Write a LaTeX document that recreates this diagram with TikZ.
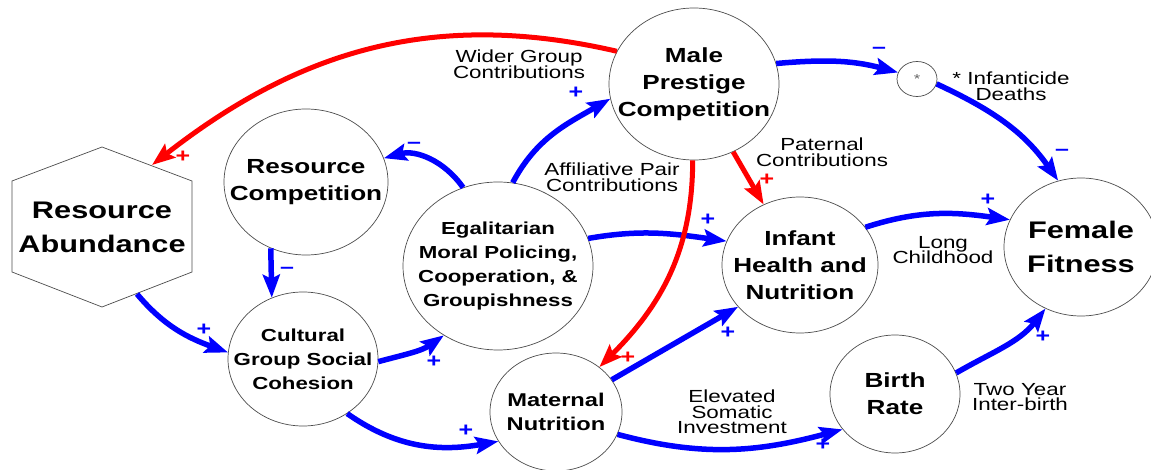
\documentclass[tikz,border=0pt]{standalone}
\usepackage{fontspec}
\setmainfont[FakeStretch=1.28]{Liberation Sans}
\usetikzlibrary{shapes,arrows.meta}
\tikzset{
  var/.style = {ellipse, draw=black!70, line width=0.7pt, fill=white,
    align=center, inner xsep=-40pt, inner ysep=0pt},% variable bubble
  var_l/.style = {var, font=\fontsize{24}{34}\selectfont\bfseries},% big
  var_m/.style = {var, font=\fontsize{20.4}{27}\selectfont\bfseries},% medium
  var_s/.style = {var, font=\fontsize{17.4}{24}\selectfont\bfseries},% small
  var_x/.style = {var, font=\fontsize{13}{13}\selectfont, text=black!60},% star
  abund/.style = {align=center, inner sep=0pt,
    font=\fontsize{24}{34}\selectfont\bfseries},
  hexa/.style = {draw=black!70, line width=0.7pt},
  lnk_b/.style = {->, blue, line width=5.5pt},% blue link
  lnk_r/.style = {->, red, line width=5pt},% red link
  lbl/.style = {align=center, inner sep=0pt,
    font={\fontsize{17.5}{15.5}\selectfont\lineskiplimit=-20pt}},
  sgn/.style = {inner sep=0pt, font=\fontsize{19.5}{19.5}\selectfont\bfseries},
  sgn_b/.style = {sgn, blue},
  sgn_r/.style = {sgn, red}
}
\begin{document}
\begin{tikzpicture}[x=1pt, y=1pt, >={Stealth[length=23pt,width=17pt,inset=4pt]}]
    \useasboundingbox (0,0) rectangle (1151,-470);
    % variables
    \node [abund](resab) at (102,-227) {Resource\\Abundance};
    \draw [hexa, shift={(resab)}] (0,80) -- (90,46) -- (90,-45) -- (0,-80)
        -- (-90,-45) -- (-90,46) -- cycle;
    \coordinate (resab_in) at (152,-165);
    \coordinate (resab_out) at (137,-294);
    \node [var_m, minimum width=164pt, minimum height=146pt](rescomp) at (306,-182) {Resource\\Competition};
    \node [var_s, minimum width=190pt, minimum height=168pt](egal) at (498,-266) {Egalitarian\\Moral Policing,\\Cooperation, \&\\Groupishness};
    \node [var_m, minimum width=170pt, minimum height=152pt](male) at (694,-84) {Male\\Prestige\\Competition};
    \node [var_x, minimum width=40pt, minimum height=35pt](star) at (917,-79) {*};
    \node [var_m, minimum width=156pt, minimum height=136pt](infant) at (800,-265) {Infant\\Health and\\Nutrition};
    \node [var_l, minimum width=154pt, minimum height=138pt](female) at (1081,-247) {Female\\Fitness};
    \node [var_s, minimum width=150pt, minimum height=134pt](cult) at (303,-359) {Cultural\\Group Social\\Cohesion};
    \node [var_s, font=\fontsize{18.5}{24}\selectfont\bfseries,
        minimum width=132pt, minimum height=118pt](matern) at (556,-412) {Maternal\\Nutrition};
    \node [var_m, minimum width=130pt, minimum height=118pt](birth) at (895,-394) {Birth\\Rate};
    % link labels
    \node [lbl](wider) at (519,-64) {Wider Group\\Contributions};
    \node [lbl](affil) at (612,-177) {Affiliative Pair\\Contributions};
    \node [lbl](patern) at (822,-152) {Paternal\\Contributions};
    \node [lbl](infdeath) at (1011,-86) {* Infanticide\\Deaths};
    \node [lbl](longch) at (943,-250) {Long\\Childhood};
    \node [lbl](elev) at (732,-412) {Elevated\\Somatic\\Investment};
    \node [lbl](twoyr) at (1020,-397) {Two Year\\Inter-birth};
    % blue links
    \draw [lnk_b] (egal.80) to[out=62,in=210] (male.190);
    \draw [lnk_b] (egal.114) to[out=125,in=15] (rescomp.17);
    \draw [lnk_b] (rescomp.242) -- (cult.117);
    \draw [lnk_b] (resab_out) to[out=-50,in=160] (cult.175);
    \draw [lnk_b] (cult.-2) to[out=15,in=215] (egal.232);
    \draw [lnk_b] (cult.-51) to[out=-35,in=190] (matern.207);
    \draw [lnk_b] (egal.17) to[out=10,in=172] (infant.162);
    \draw [lnk_b] (matern.30) -- (infant.214);
    \draw [lnk_b] (matern.-20) to[out=-15,in=195] (birth.214);
    \draw [lnk_b] (infant.30) to[out=18,in=172] (female.159);
    \draw [lnk_b] (birth.19) to[out=30,in=232] (female.240);
    \draw [lnk_b] (male.14) to[out=5,in=165] (star.161);
    \draw [lnk_b] (star.-14) to[out=-25,in=125] (female.109);
    % red links
    \draw [lnk_r] (male.157) to[out=167,in=38] (resab_in);
    \draw [lnk_r] (male.269) to[out=-90,in=45] (matern.46);
    \draw [lnk_r] (male.300) -- (infant.121);
    % signs
    \node [sgn_r](s_ab) at (183,-157) {+};
    \node [sgn_b](s_ma) at (576,-93) {+};
    \node [sgn_b](s_rc) at (414,-145) {–};
    \node [sgn_b](s_cu) at (287,-270) {–};
    \node [sgn_b](s_ra) at (204,-330) {+};
    \node [sgn_b](s_eg) at (434,-362) {+};
    \node [sgn_b](s_mn) at (466,-431) {+};
    \node [sgn_b](s_in) at (708,-220) {+};
    \node [sgn_r](s_mp) at (628,-358) {+};
    \node [sgn_r](s_pc) at (767,-180) {+};
    \node [sgn_b](s_mi) at (728,-333) {+};
    \node [sgn_b](s_br) at (823,-445) {+};
    \node [sgn_b](s_lc) at (988,-200) {+};
    \node [sgn_b](s_ty) at (1043,-337) {+};
    \node [sgn_b](s_st) at (879,-50) {–};
    \node [sgn_b](s_ff) at (1062,-152) {–};
\end{tikzpicture}
\end{document}
